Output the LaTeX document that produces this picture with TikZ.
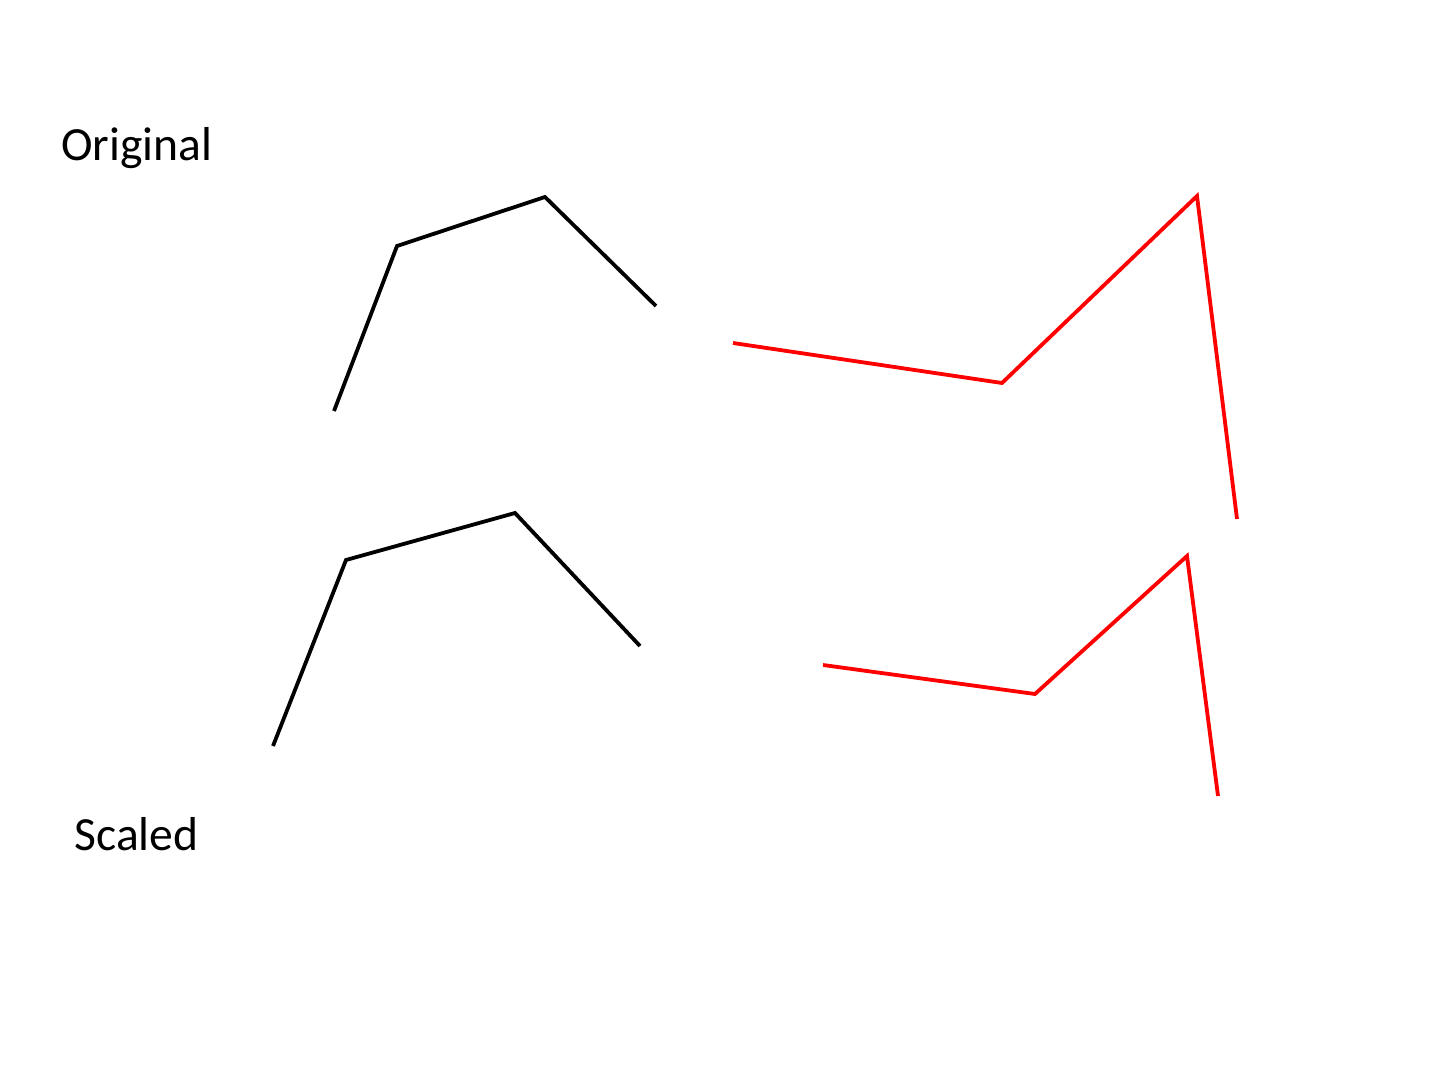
\documentclass[tikz,border=0pt]{standalone}
\usepackage{fontspec}
\setmainfont{Carlito}
\begin{document}
\begin{tikzpicture}[x=0.5pt,y=0.5pt,yscale=-1,xscale=1]
\useasboundingbox (0,0) rectangle (1440,1080);

%Straight Lines [original, black]
\draw [line width=1.9pt]  (334,411) -- (397,246) -- (545,197) -- (656,306) ;
%Straight Lines [original, red]
\draw [color={rgb, 255:red, 255; green, 0; blue, 0 } ,line width=1.9pt]  (733,343) -- (1002,383) -- (1197,196) -- (1237,519) ;
%Straight Lines [scaled, black]
\draw [line width=1.9pt]  (273,746) -- (346,560) -- (515,513) -- (640,646) ;
%Straight Lines [scaled, red]
\draw [color={rgb, 255:red, 255; green, 0; blue, 0 } ,line width=1.9pt]  (823,665) -- (1035,694) -- (1187,556) -- (1218,796) ;

% Text Node
\node (orig) at (61,148) [anchor=west][inner sep=0pt]  [font=\fontsize{23.8}{28}\selectfont]  {Original};
% Text Node
\node (scal) at (74,834) [anchor=west][inner sep=0pt]  [font=\fontsize{23.8}{28}\selectfont]  {Scaled};

\end{tikzpicture}
\end{document}
